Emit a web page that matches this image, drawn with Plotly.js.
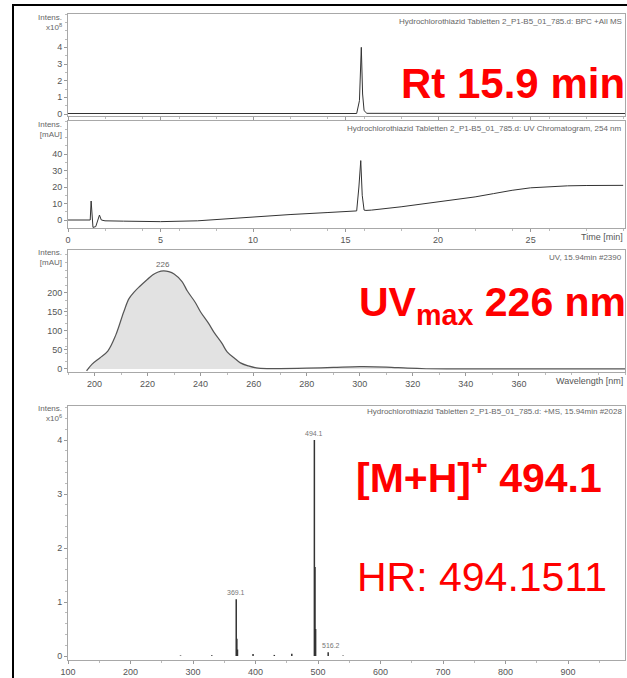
<!DOCTYPE html>
<html>
<head>
<meta charset="utf-8">
<script src="https://cdn.plot.ly/plotly-3.0.1.min.js"></script>
<style>html,body{margin:0;padding:0;background:#fff;}#chart{width:627px;height:678px;}</style>
</head>
<body>
<div id="chart"></div>
<script>
// ---- Data ----
// Panel 1: BPC +All MS (intensity x10^8 vs time, min)
const bpcTime = [0, 1.2, 1.3, 1.5, 5, 10, 15.6, 15.75, 15.85, 15.92, 16.0, 16.15, 20, 25, 30.1];
const bpcInt  = [0.03, 0.03, 0.05, 0.03, 0.02, 0.02, 0.03, 0.8, 4.0, 1.2, 0.2, 0.04, 0.03, 0.03, 0.03];

// Panel 2: UV chromatogram 254 nm (mAU vs time, min)
const uvTime = [0, 1.0, 1.2, 1.25, 1.3, 1.35, 1.5, 1.6, 1.7, 1.8, 2.0, 3, 5, 7, 9, 10, 12, 14, 15.6, 15.72, 15.82, 15.9, 16.0, 16.1, 16.4, 18, 20, 22, 23, 24, 25, 26, 27, 28, 29, 30];
const uvAbs  = [0, 0, 0, 11.5, 2, -4.5, -4, 0, 3, 0, -0.5, -0.7, -1, -0.5, 1, 2, 3.3, 4.5, 5.5, 20, 36, 15, 6, 5.8, 6, 8, 11, 14, 16, 18, 19.5, 20.3, 20.7, 20.9, 21, 21];

// Panel 3: UV spectrum at 15.94 min (mAU vs wavelength, nm)
const specWl  = [197, 199, 202, 205, 208, 211, 213, 215, 217, 220, 222, 224, 226, 228, 230, 233, 235, 238, 240, 243, 245, 248, 250, 253, 255, 258, 261, 265, 270, 280, 290, 300, 310, 318, 325, 340, 360, 380, 400];
const specAbs = [-5, 12, 29, 47, 89, 150, 185, 203, 217, 236, 248, 255, 258, 256, 250, 230, 205, 175, 150, 120, 97, 68, 45, 27, 16, 8, 3, 1, 1, 2, 4, 6, 5, 2, 0.5, 0, 0, 0, 0];
const uvMaxLabel = "226";

// Panel 4: +MS spectrum at 15.94 min (intensity x10^6 vs m/z)
const msMz  = [280, 330, 369.1, 370.1, 371.1, 396, 430, 458, 494.1, 495.1, 496.1, 516.2, 540];
const msInt = [0.01, 0.015, 1.05, 0.32, 0.12, 0.035, 0.02, 0.04, 4.0, 1.65, 0.5, 0.07, 0.01];
const msLabelMz  = [369.1, 494.1, 516.2];
const msLabelInt = [1.05, 4.0, 0.07];

// Tick labels
const timeTicks = [0, 5, 10, 15, 20, 25];
const bpcTicks  = [0, 1, 2, 3, 4];
const uvTicks   = [0, 10, 20, 30, 40];
const wlTicks   = [200, 220, 240, 260, 280, 300, 320, 340, 360];
const specTicks = [0, 50, 100, 150, 200];
const mzTicks   = [100, 200, 300, 400, 500, 600, 700, 800, 900];
const msTicks   = [0, 1, 2, 3, 4];

// ---- Layout helpers ----
const W = 627, H = 678;
const px = x => x / W;
const py = y => 1 - y / H;
const dom = (top, bottom) => [py(bottom), py(top)];
const xDom = [px(68), px(625)];
const FONT = "Liberation Sans, Arial, sans-serif";
const tickFont = {family: FONT, size: 9, color: '#555'};
const lineCol = '#333';

function axisBase(extra) {
  return Object.assign({
    showline: true, mirror: true, linecolor: '#a8a8a8', linewidth: 1,
    ticks: 'outside', ticklen: 3, tickcolor: '#999', tickfont: tickFont,
    showgrid: false, zeroline: false, fixedrange: true,
    minor: {ticks: 'outside', ticklen: 2, tickcolor: '#bbb', nticks: 5}
  }, extra);
}

const traces = [
  {x: bpcTime, y: bpcInt, xaxis: 'x', yaxis: 'y', type: 'scatter', mode: 'lines',
   line: {color: lineCol, width: 1}, hoverinfo: 'skip'},
  {x: uvTime, y: uvAbs, xaxis: 'x2', yaxis: 'y2', type: 'scatter', mode: 'lines',
   line: {color: lineCol, width: 1}, hoverinfo: 'skip'},
  {x: specWl, y: specAbs, xaxis: 'x3', yaxis: 'y3', type: 'scatter', mode: 'lines',
   line: {color: '#555', width: 1.2, shape: 'spline'}, fill: 'tozeroy', fillcolor: '#e2e2e2', hoverinfo: 'skip'},
  {x: msMz, y: msInt, xaxis: 'x4', yaxis: 'y4', type: 'bar', width: 2.4,
   marker: {color: lineCol, line: {width: 0}}, hoverinfo: 'skip'}
];

const small = {family: FONT, size: 8, color: '#666'};
const red = (size, bold) => ({family: FONT, size: size, color: '#ff0000', weight: bold ? 'bold' : 'normal'});

const ann = [];
function paperText(text, x, y, xanchor, yanchor, font, align) {
  ann.push({text: text, xref: 'paper', yref: 'paper', x: px(x), y: py(y),
    xanchor: xanchor, yanchor: yanchor, showarrow: false, font: font, align: align || 'left'});
}
// axis unit labels (top-left)
paperText('Intens.<br>x10<sup>8</sup>', 64, 11, 'right', 'top', small, 'right');
paperText('Intens.<br>[mAU]', 64, 118, 'right', 'top', small, 'right');
paperText('Intens.<br>[mAU]', 64, 246, 'right', 'top', small, 'right');
paperText('Intens.<br>x10<sup>6</sup>', 64, 402, 'right', 'top', small, 'right');
// panel titles (top-right)
paperText('Hydrochlorothiazid Tabletten 2_P1-B5_01_785.d: BPC +All MS', 624, 21, 'right', 'middle', small);
paperText('Hydrochlorothiazid Tabletten 2_P1-B5_01_785.d: UV Chromatogram, 254 nm', 624, 129, 'right', 'middle', small);
paperText('UV, 15.94min #2390', 624, 257, 'right', 'middle', small);
paperText('Hydrochlorothiazid Tabletten 2_P1-B5_01_785.d: +MS, 15.94min #2028', 624, 411, 'right', 'middle', small);
// axis titles (bottom-right)
paperText('Time [min]', 625, 237, 'right', 'middle', tickFont);
paperText('Wavelength [nm]', 625, 381, 'right', 'middle', tickFont);
// big red annotations
paperText('Rt 15.9 min', 399, 83, 'left', 'middle', red(42, true));
paperText('UV<sub>max</sub> 226 nm', 357, 305, 'left', 'middle', red(41, true));
paperText('[M+H]<sup>+</sup> 494.1', 354, 475, 'left', 'middle', red(41, true));
paperText('HR: 494.1511', 355, 577, 'left', 'middle', red(41, false));

// peak labels from data
const iMax = specAbs.indexOf(Math.max(...specAbs));
ann.push({text: uvMaxLabel, x: specWl[iMax], y: specAbs[iMax], xref: 'x3', yref: 'y3',
  yanchor: 'bottom', showarrow: false, font: small, yshift: 0});
msLabelMz.forEach((m, i) => {
  ann.push({text: m.toFixed(1), x: m, y: msLabelInt[i], xref: 'x4', yref: 'y4',
    yanchor: 'bottom', showarrow: false, font: {family: FONT, size: 7, color: '#777'}, yshift: 1,
    xshift: i === 2 ? 3 : 0});
});

const layout = {
  width: W, height: H, margin: {l: 0, r: 0, t: 0, b: 0},
  paper_bgcolor: '#fff', plot_bgcolor: '#fff', showlegend: false,
  font: {family: FONT},
  xaxis: axisBase({domain: xDom, anchor: 'y', range: [0, 30.1], tickvals: timeTicks, showticklabels: false}),
  yaxis: axisBase({domain: dom(14, 116), anchor: 'x', range: [-0.12, 6.0], tickvals: bpcTicks}),
  xaxis2: axisBase({domain: xDom, anchor: 'y2', range: [0, 30.1], tickvals: timeTicks}),
  yaxis2: axisBase({domain: dom(121, 228), anchor: 'x2', range: [-4.85, 60], tickvals: uvTicks}),
  xaxis3: axisBase({domain: xDom, anchor: 'y3', range: [190, 400], tickvals: wlTicks}),
  yaxis3: axisBase({domain: dom(250, 372), anchor: 'x3', range: [-8, 313], tickvals: specTicks}),
  xaxis4: axisBase({domain: xDom, anchor: 'y4', range: [100, 991], tickvals: mzTicks}),
  yaxis4: axisBase({domain: dom(406, 660), anchor: 'x4', range: [-0.074, 4.63], tickvals: msTicks}),
  annotations: ann,
  shapes: [
    {type: 'line', xref: 'paper', yref: 'paper', x0: px(13), x1: px(13), y0: 0, y1: py(4), line: {color: '#000', width: 2}},
    {type: 'line', xref: 'paper', yref: 'paper', x0: px(12), x1: 1, y0: py(5), y1: py(5), line: {color: '#000', width: 2}}
  ]
};

Plotly.newPlot('chart', traces, layout, {staticPlot: true, displayModeBar: false});
</script>
</body>
</html>
